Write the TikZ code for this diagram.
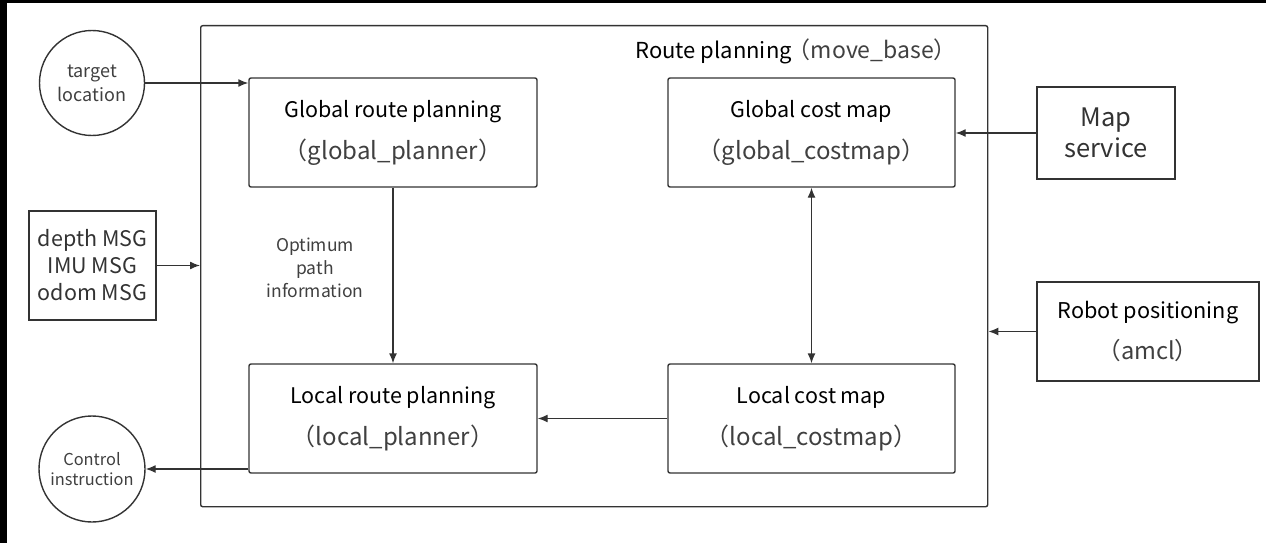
\documentclass[tikz,border=0pt]{standalone}
\usepackage{fontspec}
\setmainfont{Noto Sans CJK SC}
\usetikzlibrary{arrows.meta}
\definecolor{ln}{HTML}{333333}
\definecolor{tx2}{HTML}{404040}
\tikzset{
  box/.style={draw=ln, line width=1.4pt, rounded corners=2pt, align=center, inner sep=0pt},
  sqbox/.style={draw=ln, line width=1.4pt, align=center, inner sep=0pt},
  circ/.style={draw=ln, line width=1.4pt, circle, align=center, inner sep=0pt},
  conn/.style={draw=ln, line width=1.4pt, -{Latex[length=10pt,width=8pt]}},
  biconn/.style={draw=ln, line width=1.4pt, {Latex[length=10pt,width=8pt]}-{Latex[length=10pt,width=8pt]}},
  fa/.style={font=\fontsize{21.5}{42}\selectfont},
}
\newcommand{\subl}[1]{\textcolor{tx2}{\fontsize{24}{42}\selectfont #1}}
\begin{document}
\begin{tikzpicture}[x=1pt,y=-1pt]
\useasboundingbox (0,0) rectangle (1266,543);
\fill[white] (0,0) rectangle (1266,543);
\fill[black] (0,0) rectangle (1266,3);
\fill[black] (0,0) rectangle (7,543);

% outer container
\node[box, minimum width=787pt, minimum height=481pt, anchor=north west] (outer) at (200,25) {};
\node[anchor=base east, font=\fontsize{22}{24}\selectfont, inner sep=0pt] (title) at (957,59) {Route planning\hspace{-4pt}\textcolor{tx2}{\fontsize{23}{24}\selectfont（move\_base）}};

% inner boxes
\node[box, minimum width=288pt, minimum height=109pt, fa] (grp) at (393,132.5)
  {Global route planning\\ \subl{（global\_planner）}};
\node[box, minimum width=287pt, minimum height=109pt, fa] (gcm) at (811.5,132.5)
  {Global cost map\\ \subl{（global\_costmap）}};
\node[box, minimum width=288pt, minimum height=109pt, fa] (lrp) at (393,418.5)
  {Local route planning\\ \subl{（local\_planner）}};
\node[box, minimum width=287pt, minimum height=109pt, fa] (lcm) at (811.5,418.5)
  {Local cost map\\ \subl{（local\_costmap）}};

% outside nodes
\node[circ, minimum size=105pt, font=\fontsize{18}{24}\selectfont, text=tx2] (target) at (92,83) {target\\location};
\node[circ, minimum size=106pt, font=\fontsize{16.4}{20}\selectfont, text=tx2] (ctrl) at (92,469) {Control\\instruction};
\node[sqbox, minimum width=127pt, minimum height=109pt, font=\fontsize{21.5}{27}\selectfont, text=ln] (sens) at (92.5,265.5) {depth MSG\\IMU MSG\\odom MSG};
\node[sqbox, minimum width=138pt, minimum height=92pt, font=\fontsize{25.5}{31}\selectfont, text=ln] (map) at (1106,133) {Map\\service};
\node[sqbox, minimum width=222pt, minimum height=99pt, font=\fontsize{21.7}{41}\selectfont] (robot) at (1148,331.5)
  {Robot positioning\\ \textcolor{tx2}{\fontsize{23.6}{41}\selectfont（amcl）}};

\node[font=\fontsize{17.5}{23}\selectfont, text=tx2, align=center] (opt) at (315,268) {Optimum\\path\\information};

% connectors
\draw[conn] (target.east) -- ([yshift=49.5pt]grp.west);
\draw[conn] (sens.east) -- (sens.east -| outer.west);
\draw[conn] (grp.south) -- (lrp.north);
\draw[biconn] (gcm.south) -- (lcm.north);
\draw[conn] (map.west) -- (map.west -| gcm.east);
\draw[conn] (robot.west) -- (robot.west -| outer.east);
\draw[conn] (lcm.west) -- (lcm.west -| lrp.east);
\draw[conn] ([yshift=-50.5pt]lrp.west) -- (ctrl.east);
\end{tikzpicture}
\end{document}
